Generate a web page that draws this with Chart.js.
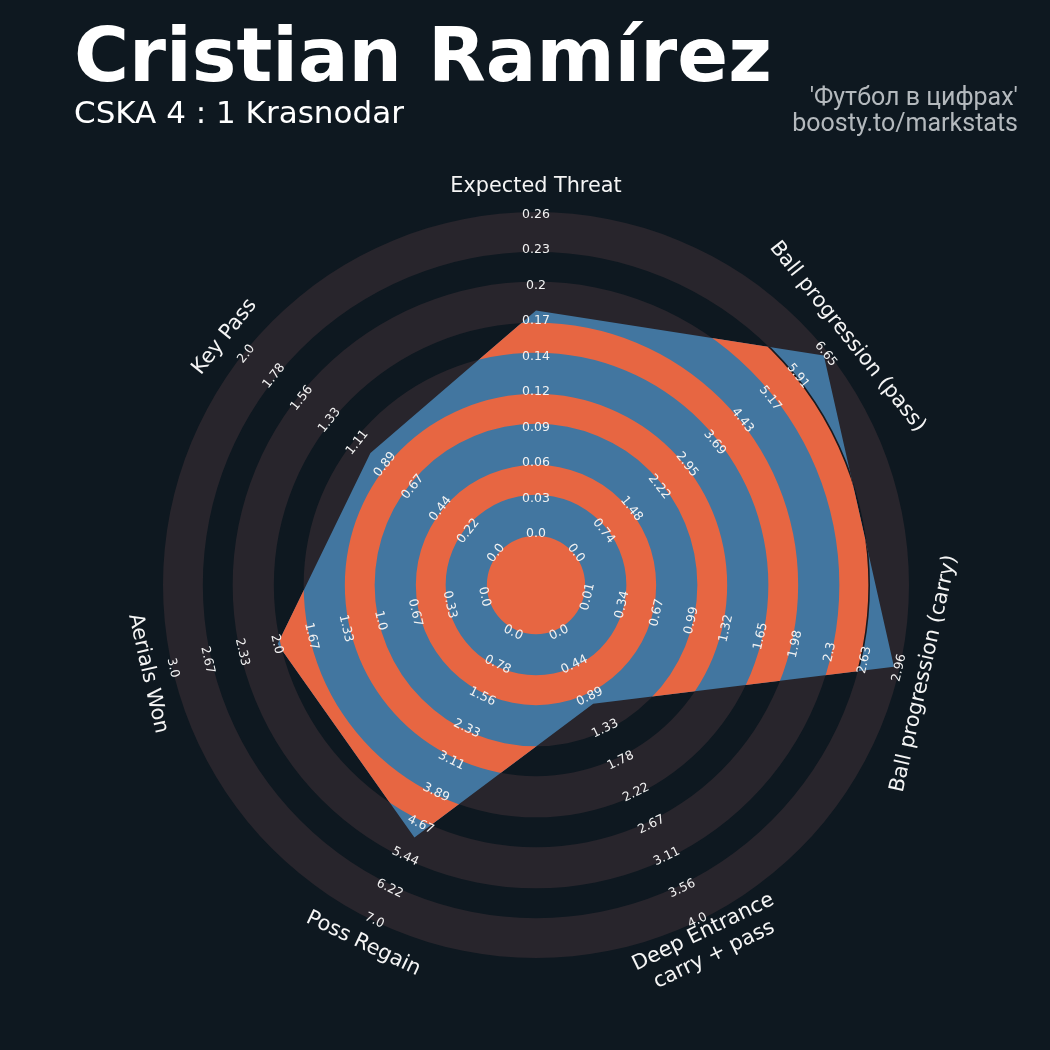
<!DOCTYPE html>
<html>
<head>
<meta charset="utf-8">
<script src="https://cdn.jsdelivr.net/npm/chart.js@4"></script>
<style>
  body { margin: 0; background: #0e1820; }
  #wrap { position: relative; width: 1050px; height: 1050px; overflow: hidden; background: #0e1820; }
  #radar { position: absolute; left: 0; top: 0; }
  .txt { position: absolute; white-space: nowrap; }
  #title { left: 74px; top: 18px; font: bold 75px/75px "DejaVu Sans"; color: #ffffff; }
  #sub { left: 74px; top: 97px; font: 31px/31px "DejaVu Sans"; color: #ffffff; }
  #credit { right: 32px; top: 84px; font: 25px/26px Roboto; color: #b4b9bd; text-align: right; }
</style>
</head>
<body>
<div id="wrap">
  <canvas id="radar" width="1050" height="1050"></canvas>
  <div class="txt" id="title">Cristian Ramírez</div>
  <div class="txt" id="sub">CSKA 4 : 1 Krasnodar</div>
  <div class="txt" id="credit">'Футбол в цифрах'<br>boosty.to/markstats</div>
</div>
<script>
// параметры радара (по часовой стрелке от верха)
const params = ["Expected Threat", "Ball progression (pass)", "Ball progression (carry)",
  ["Deep Entrance", "carry + pass"], "Poss Regain", "Aerials Won", "Key Pass"];
const lowRange = [0, 0, 0.01, 0, 0, 0, 0];
const highRange = [0.26, 6.65, 2.96, 4, 7, 3, 2];
const playerValues = [0.181, 6.58, 2.92, 1, 5, 2, 1];

// подписи шкалы на каждой оси
const tickLabels = [
  ["0.0", "0.03", "0.06", "0.09", "0.12", "0.14", "0.17", "0.2", "0.23", "0.26"],
  ["0.0", "0.74", "1.48", "2.22", "2.95", "3.69", "4.43", "5.17", "5.91", "6.65"],
  ["0.01", "0.34", "0.67", "0.99", "1.32", "1.65", "1.98", "2.3", "2.63", "2.96"],
  ["0.0", "0.44", "0.89", "1.33", "1.78", "2.22", "2.67", "3.11", "3.56", "4.0"],
  ["0.0", "0.78", "1.56", "2.33", "3.11", "3.89", "4.67", "5.44", "6.22", "7.0"],
  ["0.0", "0.33", "0.67", "1.0", "1.33", "1.67", "2.0", "2.33", "2.67", "3.0"],
  ["0.0", "0.22", "0.44", "0.67", "0.89", "1.11", "1.33", "1.56", "1.78", "2.0"]
];

const RING = "#28252c";
const BLUE = "#4276a0";
const ORANGE = "#e76642";
const STEPS = 9;            // интервалов между подписями
const SCALE_MIN = -1.465;   // центральный круг
const SCALE_MAX = 9.042;
const LABEL_AT = 9.75;      // где стоят названия параметров
// границы колец в единицах шкалы
const ringEdges = [-0.08, 1.08, 1.92, 3.08, 3.92, 5.08, 5.92, 7.08, 7.92];

// значения игрока -> доли шкалы 0..9
const scaled = playerValues.map((v, i) => (v - lowRange[i]) / (highRange[i] - lowRange[i]) * STEPS);

function circle(ctx, s, u) {
  const r = s.getDistanceFromCenterForValue(u);
  ctx.moveTo(s.xCenter + r, s.yCenter);
  ctx.arc(s.xCenter, s.yCenter, r, 0, Math.PI * 2);
}

function labelRotation(i) {
  const a = i * 360 / params.length;
  if (a <= 90) return a;
  if (a < 270) return a - 180;
  return a - 360;
}

const ringsPlugin = {
  id: "rings",
  beforeDatasetsDraw(chart) {
    const s = chart.scales.r, ctx = chart.ctx;
    ctx.save();
    ctx.beginPath();
    ringEdges.forEach(u => circle(ctx, s, u));
    circle(ctx, s, s.max);
    ctx.fillStyle = RING;
    ctx.fill("evenodd");
    ctx.restore();
  },
  afterDatasetDraw(chart, args) {
    const s = chart.scales.r, ctx = chart.ctx;
    if (args.index === 1) {
      // синий многоугольник готов, оранжевый рисуем только в тёмных кольцах
      ctx.save();
      ctx.beginPath();
      ringEdges.forEach(u => circle(ctx, s, u));
      ctx.clip("evenodd");
    } else if (args.index === 0) {
      ctx.restore();
      // тонкая тёмная кромка внешнего оранжевого кольца внутри многоугольника
      const pts = chart.getDatasetMeta(0).data;
      ctx.save();
      ctx.beginPath();
      pts.forEach((p, i) => i ? ctx.lineTo(p.x, p.y) : ctx.moveTo(p.x, p.y));
      ctx.closePath();
      ctx.clip();
      ctx.beginPath();
      circle(ctx, s, ringEdges[ringEdges.length - 1]);
      ctx.strokeStyle = "#1b1a1e";
      ctx.lineWidth = 1.6;
      ctx.stroke();
      ctx.restore();
    }
  },
  afterDatasetsDraw(chart) {
    const s = chart.scales.r, ctx = chart.ctx;
    ctx.save();
    ctx.textAlign = "center";
    ctx.textBaseline = "middle";
    params.forEach((p, i) => {
      const rot = labelRotation(i) * Math.PI / 180;
      ctx.font = "12.5px 'DejaVu Sans'";
      ctx.fillStyle = "#f2f2f2";
      tickLabels[i].forEach((t, k) => {
        const pt = s.getPointPositionForValue(i, k);
        ctx.save();
        ctx.translate(pt.x, pt.y);
        ctx.rotate(rot);
        ctx.fillText(t, 0, 1);
        ctx.restore();
      });
      const pt = s.getPointPositionForValue(i, LABEL_AT);
      const lines = Array.isArray(p) ? p : [p];
      ctx.font = "20.8px 'DejaVu Sans'";
      ctx.fillStyle = "#f5f5f5";
      ctx.save();
      ctx.translate(pt.x, pt.y);
      ctx.rotate(rot);
      lines.forEach((ln, j) => {
        ctx.fillText(ln, 0, (j - (lines.length - 1) / 2) * 25);
      });
      ctx.restore();
    });
    ctx.restore();
  }
};

new Chart(document.getElementById("radar"), {
  type: "radar",
  data: {
    labels: params.map(p => Array.isArray(p) ? p.join(" ") : p),
    datasets: [
      {
        label: "orange",
        data: scaled,
        backgroundColor: ORANGE,
        borderWidth: 0,
        pointRadius: 0,
        fill: "start"
      },
      {
        label: "blue",
        data: scaled,
        backgroundColor: BLUE,
        borderWidth: 0,
        pointRadius: 0,
        fill: "start"
      }
    ]
  },
  options: {
    responsive: false,
    animation: false,
    events: [],
    layout: { padding: { left: 163, top: 212, right: 141, bottom: 92 } },
    plugins: { legend: { display: false }, tooltip: { enabled: false } },
    scales: {
      r: {
        min: SCALE_MIN,
        max: SCALE_MAX,
        startAngle: 0,
        grid: { display: false },
        angleLines: { display: false },
        ticks: { display: false },
        pointLabels: { display: false }
      }
    }
  },
  plugins: [ringsPlugin]
});
</script>
</body>
</html>
